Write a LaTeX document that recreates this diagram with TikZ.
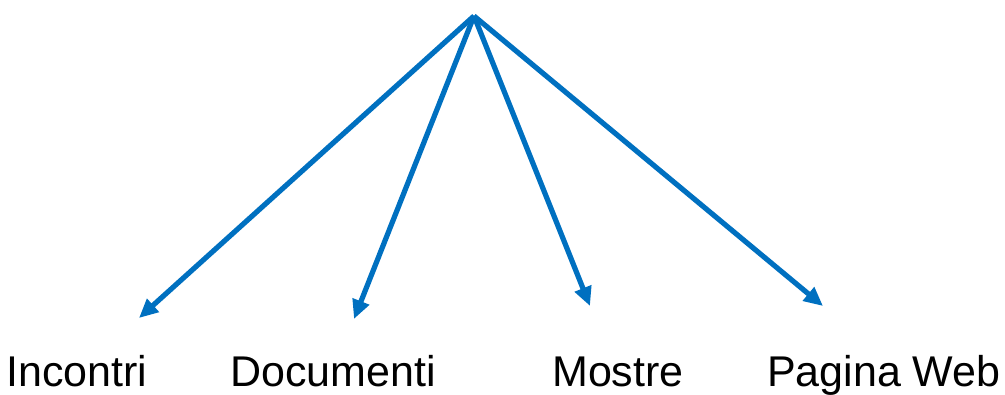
\documentclass[tikz,border=0pt]{standalone}
\usepackage{fontspec}
\setmainfont{Liberation Sans}
\usetikzlibrary{arrows.meta}
\definecolor{linkblue}{HTML}{0070C0}

\begin{document}
\begin{tikzpicture}[x=1pt,y=1pt,
    branch/.style={linkblue,line width=5.2pt,-{Triangle[length=19pt,width=17pt]}},
    label/.style={anchor=base west,inner sep=0pt,text depth=0pt,font=\fontsize{43}{50}\selectfont}]
                \useasboundingbox (0,0) rectangle (1005,394);
                \coordinate (root) at (474,378);
                \coordinate (tipA) at (139,76);
                \coordinate (tipB) at (354,75);
                \coordinate (tipC) at (590,88);
                \coordinate (tipD) at (823,88);
                \foreach \t in {tipA,tipB,tipC,tipD}{
                    \draw[branch] (root)--(\t);
                }
                \node[label] (incontri) at (6,8){Incontri};
                \node[label] (documenti) at (230,8){Documenti};
                \node[label] (mostre) at (552,8){Mostre};
                \node[label] (pagina) at (767,8){Pagina Web};
            \end{tikzpicture}
\end{document}
